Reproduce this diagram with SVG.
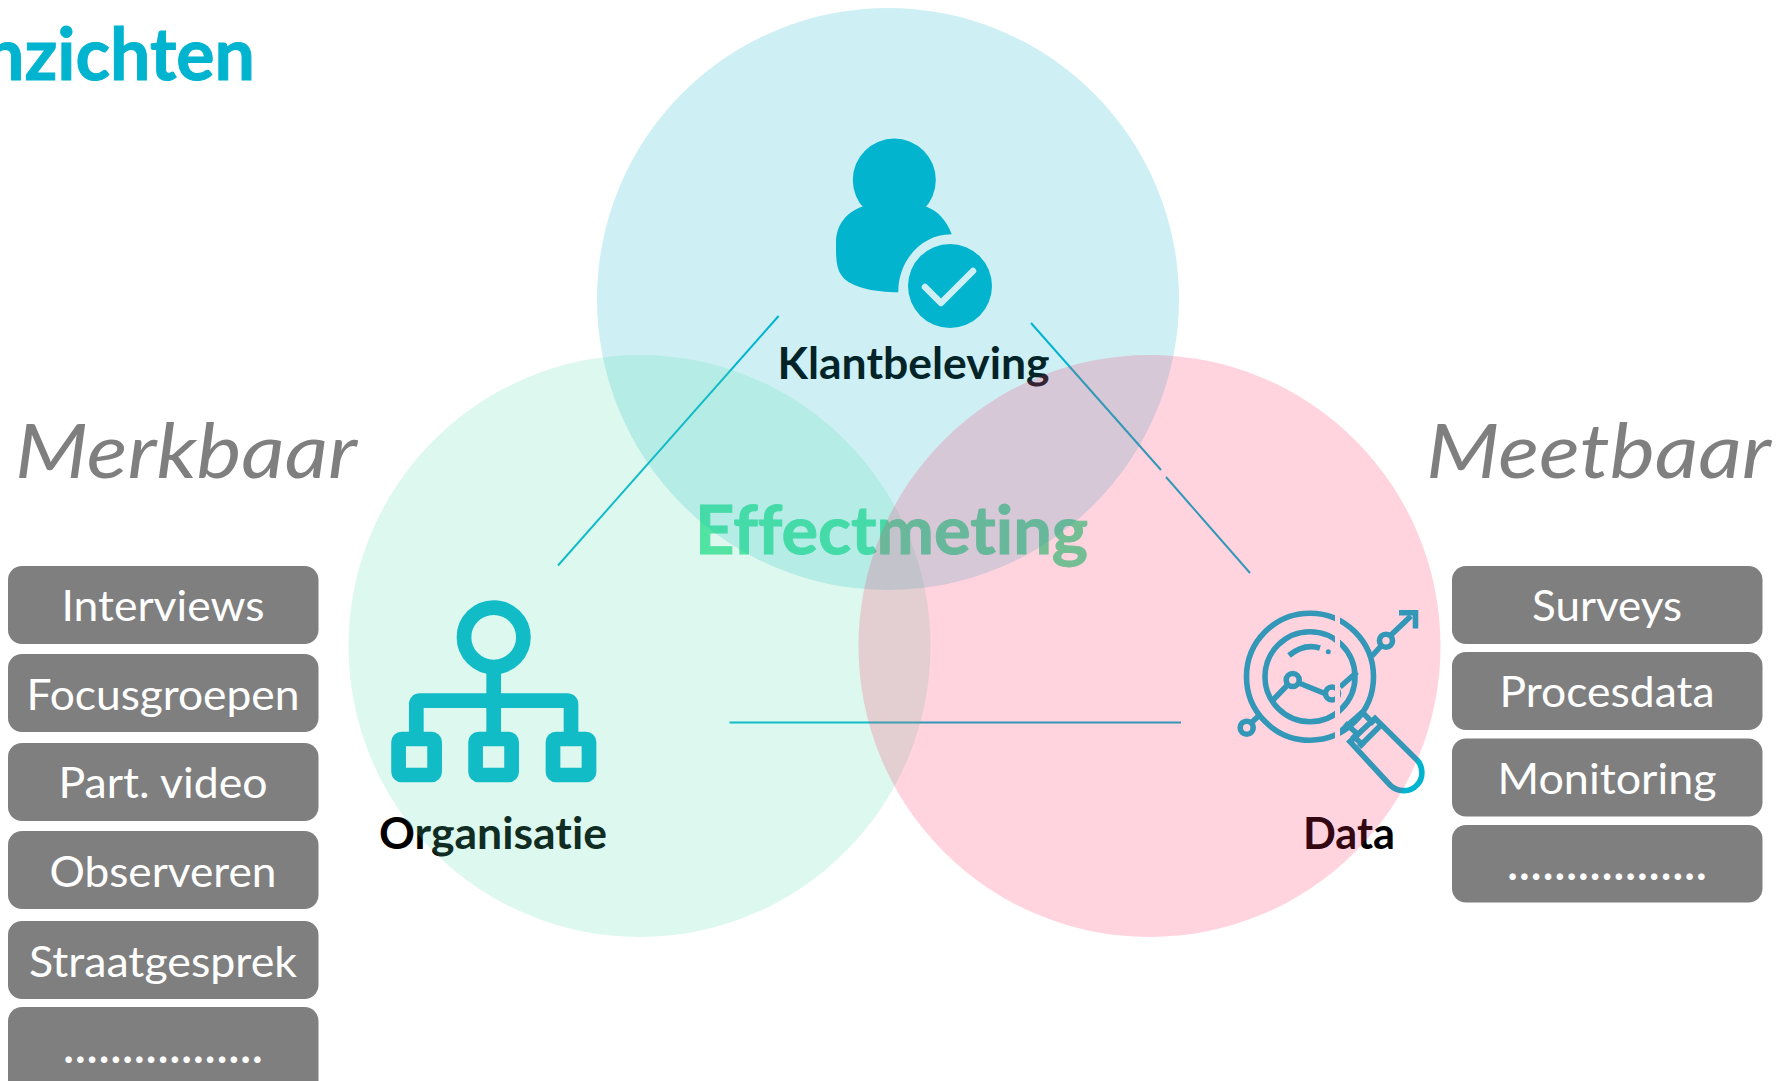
<svg xmlns="http://www.w3.org/2000/svg" width="1790" height="1081" viewBox="0 0 1790 1081">
<style>
text{font-family:Lato,"Liberation Sans",sans-serif;font-variant-ligatures:none}
.box rect{fill:#7f7f7f}
.box text{fill:#fff;font-size:43px;text-anchor:middle}
.box text.dots{font-weight:700}
.head{fill:#7f7f7f;font-size:76px;font-style:italic;font-weight:400}
.lab{fill:#000;font-size:44px;font-weight:700;text-anchor:middle}
.ln{stroke:#00b4cf;stroke-width:2;fill:none}
.c{fill:#00b4cf}
.s{fill:none;stroke:#00b4cf}
</style>
<defs>
<clipPath id="gap"><rect x="1230" y="590" width="105" height="220"/><rect x="1340" y="590" width="100" height="220"/></clipPath>
</defs>
<rect width="1790" height="1081" fill="#fff"/>
<text x="-16" y="80" fill="#00b4cf" stroke="#00b4cf" stroke-width="1" font-size="72" font-weight="700" textLength="271" lengthAdjust="spacingAndGlyphs">nzichten</text>
<text class="head" x="15" y="478" textLength="342" lengthAdjust="spacingAndGlyphs">Merkbaar</text>
<text class="head" x="1426" y="478" textLength="345" lengthAdjust="spacingAndGlyphs">Meetbaar</text>
<g id="connectors">
<path class="ln" d="M778.6 316L558 565.500"/>
<path class="ln" d="M1031 323L1161 470"/>
<path class="ln" d="M1166 477L1250 573"/>
<path class="ln" d="M729.5 722.6H1181"/>
</g>
<g id="klantbeleving">
<circle class="c" cx="894.3" cy="180" r="41.5"/>
<path class="c" d="M861.7 206.7C845 213 836 226 836 243C836 258 836 268 842 276C851 288 875 292 898.3 292.3C898 260 922 234 951.7 234.3C947 221 938 211 926.7 206.7Z"/>
<circle class="c" cx="950" cy="286" r="42"/>
<path d="M925 287L941 303L973 271" fill="none" stroke="#fff" stroke-width="6.500" stroke-linecap="round" stroke-linejoin="round"/>
<text class="lab" x="913.500" y="379" textLength="272" lengthAdjust="spacingAndGlyphs">Klantbeleving</text>
</g>
<g id="organisatie">
<g class="s" stroke-width="14.7">
<circle cx="493.7" cy="637.3" r="29.7"/>
<path d="M493.7 667V735M416.3 735V704.5Q416.3 700.7 420 700.7H567Q571 700.7 571 704.5V735" stroke-linejoin="round"/>
<rect x="398.6" y="739" width="36" height="36" rx="3"/>
<rect x="475.6" y="739" width="36" height="36" rx="3"/>
<rect x="553" y="739" width="36" height="36" rx="3"/>
</g>
<text class="lab" x="493" y="849" textLength="228" lengthAdjust="spacingAndGlyphs">Organisatie</text>
</g>
<g id="data">
<g clip-path="url(#gap)">
<g class="s" stroke-width="5.6">
<circle cx="1310" cy="676.7" r="63.5"/>
<circle cx="1310" cy="676.7" r="45"/>
<path d="M1289 655.500Q1304 643 1320 648"/>
<path d="M1273 700L1287 685.500M1299 683L1326 694"/>
<circle cx="1292.700" cy="680" r="6.500"/>
<circle cx="1332" cy="693.500" r="6.500"/>
<path d="M1340 687L1357 672"/>
<path d="M1341 731L1363 711.500"/>
</g>
</g>
<g class="s" stroke-width="5.600">
<path d="M1372 656L1381 646M1391 635L1411 616"/>
<circle cx="1386" cy="640.700" r="6.500"/>
<path d="M1399 612.700H1415.500V628.500"/>
<path d="M1258.500 716L1251 723"/>
<circle cx="1246.700" cy="727.700" r="6.500"/>
<path d="M1352 735L1364 746M1345 723L1360 736M1362 712L1374 724" />
<path d="M1380 726L1359 747"/>
<path d="M1350 741.700L1390 785C1397 792 1410 793 1417 785C1424 778 1423 766 1417 760L1375 718.300L1350 741.700Z"/>
</g>
<circle class="c" cx="1328.300" cy="651.700" r="2.500"/>
<text class="lab" x="1349" y="849" textLength="92" lengthAdjust="spacingAndGlyphs">Data</text>
</g>
<g id="effectmeting"><text x="891.500" y="554" font-size="67" font-weight="700" text-anchor="middle" fill="#51e5a1" stroke="#51e5a1" stroke-width="1" textLength="393" lengthAdjust="spacingAndGlyphs">Effectmeting</text></g>
<g id="merkbaar-list" class="box">
<g id="interviews"><rect x="8" y="566" width="310.500" height="78" rx="14"/><text x="163" y="621" textLength="203" lengthAdjust="spacingAndGlyphs">Interviews</text></g>
<g id="focusgroepen"><rect x="8" y="654" width="310.500" height="78" rx="14"/><text x="163" y="710" textLength="273" lengthAdjust="spacingAndGlyphs">Focusgroepen</text></g>
<g id="part-video"><rect x="8" y="743" width="310.500" height="78" rx="14"/><text x="163" y="798" textLength="209" lengthAdjust="spacingAndGlyphs">Part. video</text></g>
<g id="observeren"><rect x="8" y="831" width="310.500" height="78" rx="14"/><text x="163" y="887" textLength="227" lengthAdjust="spacingAndGlyphs">Observeren</text></g>
<g id="straatgesprek"><rect x="8" y="921" width="310.500" height="78" rx="14"/><text x="163" y="977" textLength="268" lengthAdjust="spacingAndGlyphs">Straatgesprek</text></g>
<g id="meer-links"><rect x="8" y="1007" width="310.500" height="90" rx="14"/><text class="dots" x="163" y="1063" textLength="199">.................</text></g>
</g>
<g id="meetbaar-list" class="box">
<g id="surveys"><rect x="1452" y="566" width="310.500" height="78" rx="14"/><text x="1607" y="621" textLength="150" lengthAdjust="spacingAndGlyphs">Surveys</text></g>
<g id="procesdata"><rect x="1452" y="652" width="310.500" height="78" rx="14"/><text x="1607" y="707" textLength="215" lengthAdjust="spacingAndGlyphs">Procesdata</text></g>
<g id="monitoring"><rect x="1452" y="738.500" width="310.500" height="78" rx="14"/><text x="1607" y="794" textLength="219" lengthAdjust="spacingAndGlyphs">Monitoring</text></g>
<g id="meer-rechts"><rect x="1452" y="825" width="310.500" height="77.500" rx="14"/><text class="dots" x="1607" y="880" textLength="199">.................</text></g>
</g>
<g id="venn">
<circle cx="888" cy="299" r="291" fill="#0ab4cd" fill-opacity=".2"/>
<circle cx="639.500" cy="646" r="291" fill="#55dcaa" fill-opacity=".2"/>
<circle cx="1149.500" cy="646" r="291" fill="#ff285f" fill-opacity=".2"/>
</g>
</svg>
